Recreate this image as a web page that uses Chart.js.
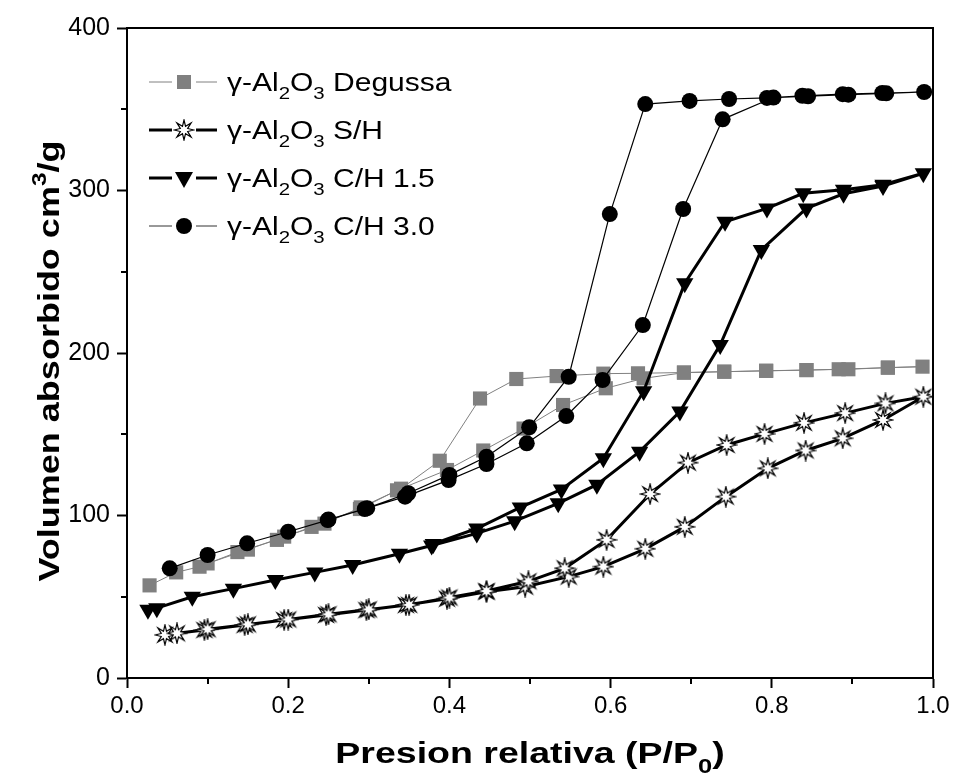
<!DOCTYPE html>
<html>
<head>
<meta charset="utf-8">
<script src="https://cdn.jsdelivr.net/npm/chart.js@4/dist/chart.umd.min.js"></script>
<style>
  html, body { margin: 0; padding: 0; background: #fff; }
  #wrap { width: 955px; height: 779px; }
</style>
</head>
<body>
<div id="wrap"><canvas id="chart" width="955" height="779"></canvas></div>
<script>
// isotermas: rama de adsorcion (ida) y de desorcion (vuelta), [P/P0, cm3/g]
const degussaAds = [[0.028, 57], [0.061, 65], [0.09, 68.5], [0.137, 77.5], [0.186, 85], [0.229, 93], [0.289, 104],
  [0.335, 115.5], [0.397, 128], [0.442, 140], [0.492, 153.5], [0.541, 168], [0.594, 178.3], [0.641, 184.4],
  [0.691, 187.9], [0.741, 188.5], [0.793, 189.1], [0.843, 189.5], [0.883, 190], [0.944, 191], [0.987, 191.6]]
const degussaDes = [[0.944, 191], [0.895, 190], [0.843, 189.5], [0.793, 189], [0.741, 188.5], [0.691, 188],
  [0.634, 187.5], [0.591, 187.3], [0.533, 185.8], [0.483, 184], [0.438, 172], [0.388, 133.7], [0.34, 116.5],
  [0.29, 105], [0.245, 95], [0.195, 87], [0.15, 79], [0.1, 70.5]]

const shAds = [[0.047, 26.5], [0.062, 27.5], [0.096, 29.5], [0.146, 32.6], [0.195, 35.7], [0.247, 38.8], [0.297, 41.8],
  [0.346, 44.9], [0.397, 48.8], [0.446, 53], [0.494, 56.2], [0.548, 62.4], [0.591, 68.5], [0.643, 79.5],
  [0.692, 93], [0.743, 111.6], [0.795, 129], [0.842, 140], [0.888, 147.5], [0.938, 158.8], [0.988, 173.1]]
const shDes = [[0.941, 169], [0.891, 163], [0.84, 157], [0.791, 150.2], [0.744, 143.4], [0.696, 132.5],
  [0.649, 113.2], [0.595, 85], [0.543, 67.5], [0.498, 59.5], [0.446, 53.5], [0.4, 49.5], [0.35, 45],
  [0.3, 42.2], [0.25, 39.2], [0.2, 36], [0.15, 33], [0.1, 30]]

const c15Ads = [[0.026, 42], [0.037, 43], [0.081, 50], [0.132, 55], [0.184, 60.3], [0.233, 65], [0.28, 69.5],
  [0.338, 76.5], [0.378, 81.5], [0.434, 89], [0.481, 96.5], [0.535, 107.5], [0.583, 119], [0.636, 139.3],
  [0.686, 164], [0.736, 205], [0.787, 263.4], [0.843, 289], [0.889, 298], [0.938, 302.8], [0.988, 310.6]]
const c15Des = [[0.938, 303.5], [0.889, 300.5], [0.839, 298.3], [0.794, 289], [0.742, 280.8], [0.692, 242.9],
  [0.641, 176.5], [0.591, 135.2], [0.539, 116], [0.488, 105], [0.434, 92], [0.38, 82.5]]

const c30Ads = [[0.053, 67.5], [0.1, 75.7], [0.149, 82.9], [0.2, 90], [0.249, 97.2], [0.295, 104], [0.345, 111.6],
  [0.399, 121.8], [0.446, 131.7], [0.496, 144.4], [0.545, 161.2], [0.59, 183.4], [0.64, 217.2], [0.69, 288.6],
  [0.739, 343.8], [0.802, 357.2], [0.845, 358], [0.895, 359], [0.942, 359.8], [0.989, 360.6]]
const c30Des = [[0.937, 360], [0.888, 359.3], [0.838, 358.3], [0.794, 357], [0.747, 356.3], [0.698, 355.1],
  [0.643, 353.2], [0.599, 285.5], [0.548, 185.4], [0.499, 154.3], [0.446, 136.2], [0.4, 125], [0.349, 113.7],
  [0.298, 104.5], [0.25, 97.5]]

const seriesNames = ['Degussa', 'S/H', 'C/H 1.5', 'C/H 3.0']
const xTicks = [0, 0.2, 0.4, 0.6, 0.8, 1.0]
const xMinor = [0.1, 0.3, 0.5, 0.7, 0.9]
const yTicks = [0, 100, 200, 300, 400]
const yMinor = [50, 150, 250, 350]

const FONT = '"Liberation Sans", Arial, Helvetica, sans-serif'
const GRAY = '#808080'

// estrella hueca, como el simbolo de Origin
const starImg = (() => {
  const c = document.createElement('canvas')
  c.width = 22; c.height = 22
  const g = c.getContext('2d')
  g.beginPath()
  for (let i = 0; i < 16; i++) {
    const r = i % 2 ? 4 : 10
    const a = -Math.PI / 2 + i * Math.PI / 8
    const px = 11 + r * Math.cos(a), py = 11 + r * Math.sin(a)
    i ? g.lineTo(px, py) : g.moveTo(px, py)
  }
  g.closePath()
  g.fillStyle = '#fff'
  g.fill()
  g.lineWidth = 1.2
  g.strokeStyle = '#000'
  g.stroke()
  return c
})()

const loop = (ads, des) => ads.concat(des).map(([x, y]) => ({ x, y }))

// texto con subindices / superindices
function richText(ctx, parts, x, y, size, opts) {
  const bold = opts.bold, sx = opts.sx || 1, align = opts.align || 'left', rot = opts.rot || 0
  const font = s => (bold ? 'bold ' : '') + s + 'px ' + FONT
  let w = 0
  parts.forEach(([t, m]) => { ctx.font = font(m ? size * 0.68 : size); w += ctx.measureText(t).width })
  ctx.save()
  ctx.translate(x, y)
  ctx.rotate(rot)
  ctx.scale(sx, 1)
  let cx = align == 'center' ? -w / 2 : 0
  ctx.fillStyle = '#000'
  ctx.textAlign = 'left'
  ctx.textBaseline = 'alphabetic'
  parts.forEach(([t, m]) => {
    ctx.font = font(m ? size * 0.68 : size)
    const dy = m == 'sub' ? size * 0.32 : m == 'sup' ? -size * 0.42 : 0
    ctx.fillText(t, cx, dy)
    cx += ctx.measureText(t).width
  })
  ctx.restore()
}

function drawMarker(ctx, kind, x, y) {
  ctx.save()
  ctx.fillStyle = kind == 'rect' ? GRAY : '#000'
  ctx.beginPath()
  if (kind == 'rect') {
    ctx.rect(x - 7, y - 7, 14, 14)
  } else if (kind == 'tri') {
    ctx.moveTo(x - 9, y - 6); ctx.lineTo(x + 9, y - 6); ctx.lineTo(x, y + 10)
  } else if (kind == 'circle') {
    ctx.arc(x, y, 8, 0, Math.PI * 2)
  }
  ctx.fill()
  if (kind == 'star') ctx.drawImage(starImg, x - 11, y - 11)
  ctx.restore()
}

const legendRows = [
  { name: seriesNames[0], marker: 'rect', color: GRAY, width: 1 },
  { name: seriesNames[1], marker: 'star', color: '#000', width: 3 },
  { name: seriesNames[2], marker: 'tri', color: '#000', width: 3 },
  { name: seriesNames[3], marker: 'circle', color: '#333', width: 1 }
]

const decor = {
  id: 'decor',
  afterDraw(chart) {
    const ctx = chart.ctx
    const a = chart.chartArea
    const x = chart.scales.x, y = chart.scales.y
    ctx.save()
    ctx.strokeStyle = '#000'
    ctx.lineWidth = 2
    ctx.beginPath()
    ctx.moveTo(a.left, a.top); ctx.lineTo(a.right, a.top); ctx.lineTo(a.right, a.bottom)
    ctx.stroke()

    // marcas menores
    ctx.beginPath()
    xMinor.forEach(v => {
      const px = Math.round(x.getPixelForValue(v))
      ctx.moveTo(px, a.bottom); ctx.lineTo(px, a.bottom + 6)
    })
    yMinor.forEach(v => {
      const py = Math.round(y.getPixelForValue(v))
      ctx.moveTo(a.left, py); ctx.lineTo(a.left - 6, py)
    })
    ctx.stroke()
    ctx.restore()

    // titulos de ejes
    richText(ctx, [['Presion relativa (P/P'], ['0', 'sub'], [')']], (a.left + a.right) / 2, 763, 30,
      { bold: true, sx: 1.25, align: 'center' })
    richText(ctx, [['Volumen absorbido cm'], ['3', 'sup'], ['/g']], 59, 361, 30,
      { bold: true, sx: 1.2, align: 'center', rot: -Math.PI / 2 })

    // leyenda: linea cortada alrededor del simbolo
    legendRows.forEach((r, i) => {
      const ly = 82 + i * 48
      ctx.save()
      ctx.strokeStyle = r.color
      ctx.lineWidth = r.width
      ctx.beginPath()
      ctx.moveTo(149, ly); ctx.lineTo(172, ly)
      ctx.moveTo(196, ly); ctx.lineTo(217, ly)
      ctx.stroke()
      ctx.restore()
      drawMarker(ctx, r.marker, 184, ly)
      richText(ctx, [['\u03b3-Al'], ['2', 'sub'], ['O'], ['3', 'sub'], [' ' + r.name]], 227, ly + 9, 25, { sx: 1.2 })
    })
  }
}

Chart.defaults.font.family = FONT
Chart.defaults.color = '#000'

new Chart(document.getElementById('chart'), {
  type: 'scatter',
  data: {
    datasets: [
      {
        label: seriesNames[3], data: loop(c30Ads, c30Des), showLine: true,
        borderColor: '#000', borderWidth: 1.2, pointStyle: 'circle', pointRadius: 8,
        backgroundColor: '#000', pointBorderWidth: 0
      },
      {
        label: seriesNames[2], data: loop(c15Ads, c15Des), showLine: true,
        borderColor: '#000', borderWidth: 3, pointStyle: 'triangle', pointRotation: 180, pointRadius: 10,
        backgroundColor: '#000', pointBorderWidth: 0
      },
      {
        label: seriesNames[1], data: loop(shAds, shDes), showLine: true,
        borderColor: '#000', borderWidth: 3, pointStyle: starImg, pointRadius: 10
      },
      {
        label: seriesNames[0], data: loop(degussaAds, degussaDes), showLine: true,
        borderColor: GRAY, borderWidth: 1, pointStyle: 'rect', pointRadius: 10,
        backgroundColor: GRAY, pointBorderWidth: 0
      }
    ]
  },
  options: {
    responsive: false,
    animation: false,
    devicePixelRatio: 1,
    clip: false,
    layout: { padding: { top: 28, right: 22, left: 0, bottom: 0 } },
    plugins: { legend: { display: false }, tooltip: { enabled: false } },
    scales: {
      x: {
        type: 'linear', min: 0, max: 1,
        afterBuildTicks: s => { s.ticks = xTicks.map(v => ({ value: v })) },
        afterFit: s => { s.height = 101 },
        ticks: { callback: v => v.toFixed(1), font: { size: 24 }, padding: 4, maxRotation: 0 },
        grid: { drawOnChartArea: false, drawTicks: true, tickLength: 10, tickWidth: 2, tickColor: '#000' },
        border: { display: true, color: '#000', width: 2 }
      },
      y: {
        type: 'linear', min: 0, max: 400,
        afterBuildTicks: s => { s.ticks = yTicks.map(v => ({ value: v })) },
        afterFit: s => { s.width = 127 },
        ticks: { callback: v => String(v), font: { size: 25 }, padding: 7 },
        grid: { drawOnChartArea: false, drawTicks: true, tickLength: 10, tickWidth: 2, tickColor: '#000' },
        border: { display: true, color: '#000', width: 2 }
      }
    }
  },
  plugins: [decor]
})
</script>
</body>
</html>
